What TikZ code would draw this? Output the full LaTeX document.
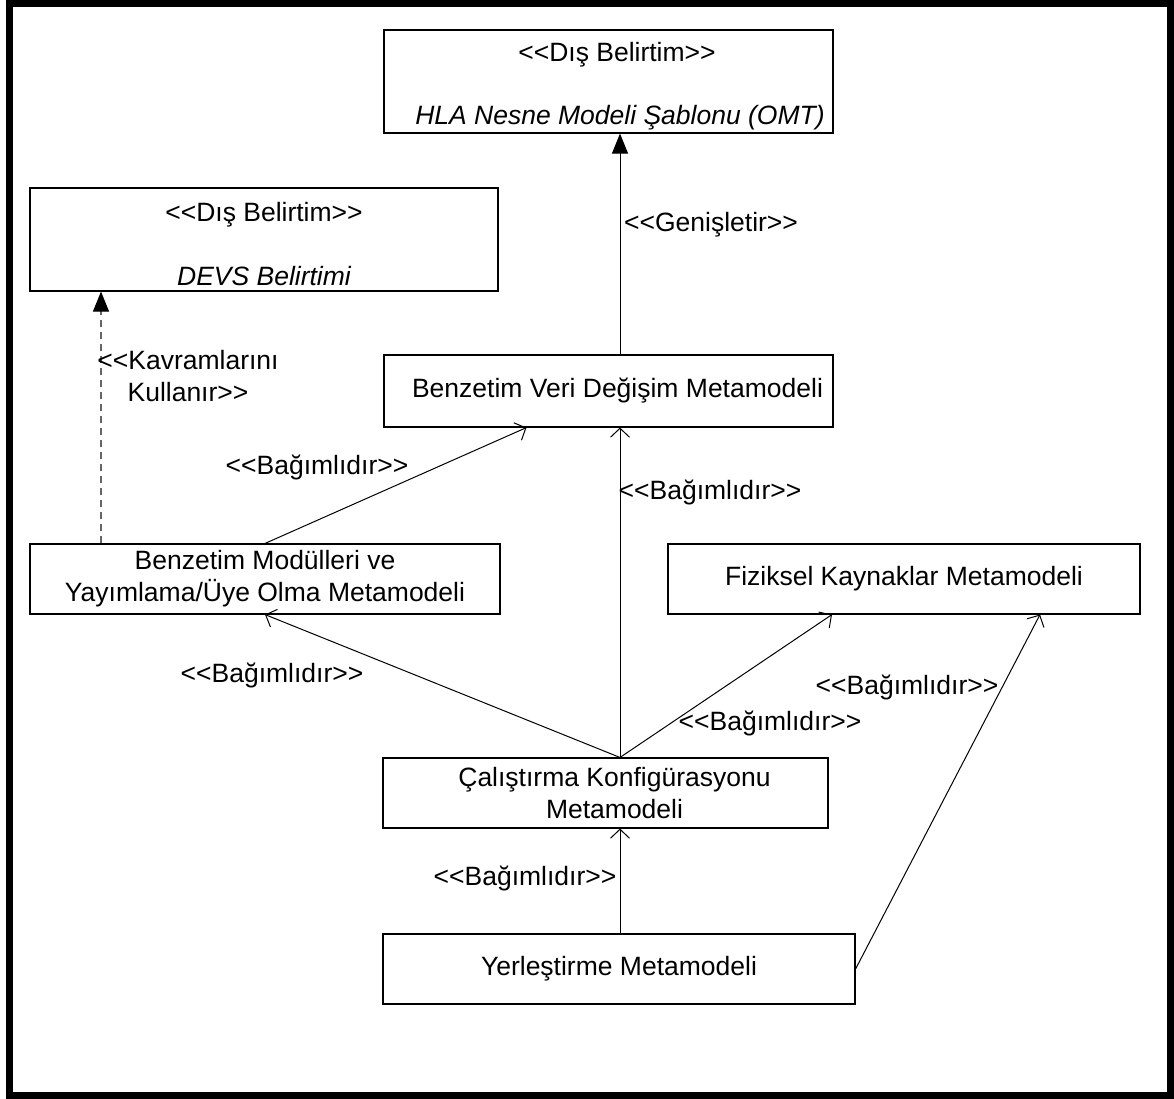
\documentclass[tikz,border=0pt]{standalone}
\usepackage{fontspec}
% plain family without TeX ligatures, so that << and >> stay as typed
\newfontfamily\umlfont{Liberation Sans}
\usetikzlibrary{arrows.meta,calc}
\begin{document}
\begin{tikzpicture}[x=1pt,y=-1pt,
  every node/.style={font=\umlfont\fontsize{26.5}{32}\selectfont, inner sep=0pt},
  umlbox/.style={draw=black, line width=1.1pt, fill=white},
  conn/.style={draw=black, line width=1pt},
  dep/.style={conn, -{Straight Barb[length=9pt,width=19pt,line width=1pt]}},
  gen/.style={conn, -{Triangle[length=20pt,width=16pt]}},
  uses/.style={draw=black!60, line width=1.1pt, dash pattern=on 7pt off 5pt, -{Triangle[length=20pt,width=16pt,color=black,fill=black]}},
  lbl/.style={align=center}]
\useasboundingbox (0,0) rectangle (1174,1099);
% outer frame
\draw[line width=7pt] (9.5,3.5) rectangle (1170.5,1095.5);

% boxes
\node[umlbox, minimum width=449pt, minimum height=103pt] (hla) at (608.5,81.5) {};
\node[anchor=base] at (617,62) {<<Dış Belirtim>>};
\node[anchor=base] at (620,125) {\itshape HLA Nesne Modeli Şablonu (OMT)};

\node[umlbox, minimum width=468pt, minimum height=103pt] (devs) at (264,239.5) {};
\node[anchor=base] at (264,222) {<<Dış Belirtim>>};
\node[anchor=base] at (264,285) {\itshape DEVS Belirtimi};

\node[umlbox, minimum width=449pt, minimum height=72pt] (bvd) at (608.5,391) {};
\node at ($(bvd.center)+(9,0)$) {Benzetim Veri Değişim Metamodeli};

\node[umlbox, minimum width=470pt, minimum height=70pt, align=center] (bm) at (265,579)
  {Benzetim Modülleri ve\\Yayımlama/Üye Olma Metamodeli};

\node[umlbox, minimum width=472pt, minimum height=70pt] (fk) at (904,579) {Fiziksel Kaynaklar Metamodeli};

\node[umlbox, minimum width=445pt, minimum height=70pt] (cal) at (605.5,793) {};
\node[align=center] at ($(cal.center)+(9,0)$) {Çalıştırma Konfigürasyonu\\Metamodeli};

\node[umlbox, minimum width=472pt, minimum height=70pt] (yer) at (619,969) {Yerleştirme Metamodeli};

% reference verticals
\coordinate (mx) at (620,0);
\coordinate (lx) at (101,0);

% connectors
\draw[gen] (bvd.north -| mx) -- (hla.south -| mx);
\draw[uses] (bm.north -| lx) -- (devs.south -| lx);
\draw[dep] (bm.north) -- ($(bvd.south)+(-82,0)$);
\draw[dep] (cal.north -| mx) -- (bvd.south -| mx);
\draw[dep] (cal.north -| mx) -- (bm.south);
\draw[dep] (cal.north -| mx) -- ($(fk.south)+(-72,0)$);
\draw[dep] (yer.north -| mx) -- (cal.south -| mx);
\draw[dep] (yer.east) -- ($(fk.south)+(136,0)$);

% labels
\node[lbl] at (711,225) {<<Genişletir>>};
\node[lbl] at (188,376) {<<Kavramlarını\\Kullanır>>};
\node[lbl] at (317,467) {<<Bağımlıdır>>};
\node[lbl] at (710,492) {<<Bağımlıdır>>};
\node[lbl] at (272,675) {<<Bağımlıdır>>};
\node[lbl] at (770,723) {<<Bağımlıdır>>};
\node[lbl] at (525,878) {<<Bağımlıdır>>};
\node[lbl] at (907,687) {<<Bağımlıdır>>};
\end{tikzpicture}
\end{document}
